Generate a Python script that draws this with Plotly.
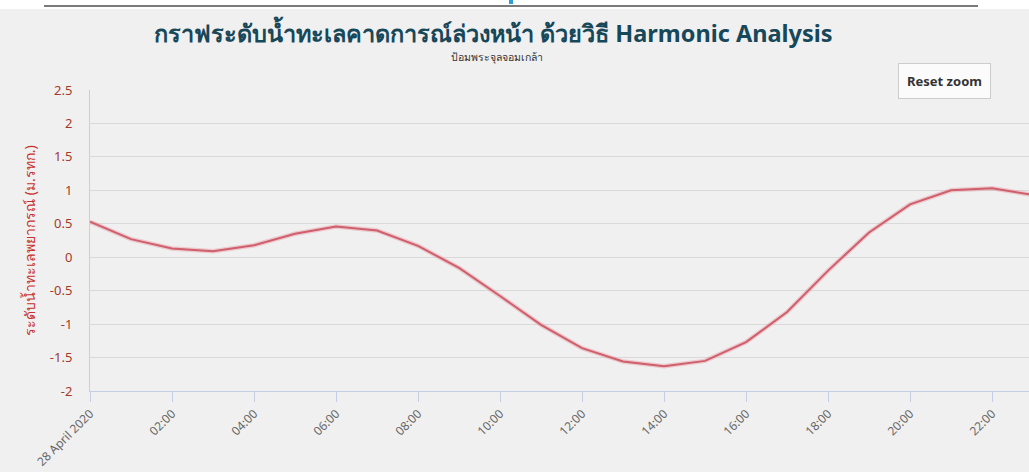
import plotly.graph_objects as go

# Hourly predicted sea level, 28 April 2020
times = [f"2020-04-28 {h:02d}:00" for h in range(24)]
levels = [0.53, 0.27, 0.13, 0.09, 0.18, 0.35, 0.46, 0.40, 0.17, -0.16,
          -0.58, -1.01, -1.36, -1.56, -1.63, -1.55, -1.27, -0.82, -0.20, 0.37,
          0.79, 1.00, 1.03, 0.93]

x_tick_vals = [f"2020-04-28 {h:02d}:00" for h in range(0, 24, 2)]
x_tick_text = ["28 April 2020"] + [f"{h:02d}:00" for h in range(2, 24, 2)]
y_tick_vals = [2.5, 2, 1.5, 1, 0.5, 0, -0.5, -1, -1.5, -2]
y_tick_text = ["2.5", "2", "1.5", "1", "0.5", "0", "-0.5", "-1", "-1.5", "-2"]

title_text = "กราฟระดับน้ำทะเลคาดการณ์ล่วงหน้า ด้วยวิธี Harmonic Analysis"
subtitle_text = "ป้อมพระจุลจอมเกล้า"
y_title = "ระดับน้ำทะเลพยากรณ์ (ม.รทก.)"

W, H = 1029, 472
L, R, T, B = 90, 0, 90, 81
plot_h = H - T - B
plot_w = W - L - R


def py(pix):
    """Convert a pixel row to paper y."""
    return (H - B - pix) / plot_h


def px(pix):
    """Convert a pixel column to paper x."""
    return (pix - L) / plot_w


fig = go.Figure()
# soft halo under the line
fig.add_trace(go.Scatter(x=times, y=levels, mode="lines",
                         line=dict(color="rgba(230,150,160,0.45)", width=4.5),
                         hoverinfo="skip", showlegend=False))
fig.add_trace(go.Scatter(x=times, y=levels, mode="lines",
                         line=dict(color="#cf5f6c", width=2),
                         showlegend=False))

fig.update_layout(
    width=W, height=H,
    margin=dict(l=L, r=R, t=T, b=B),
    paper_bgcolor="#f0f0f0",
    plot_bgcolor="rgba(0,0,0,0)",
    font=dict(family="Noto Sans, DejaVu Sans, sans-serif"),
    xaxis=dict(
        range=["2020-04-28 00:00", "2020-04-28 22:54"],
        tickvals=x_tick_vals, ticktext=x_tick_text,
        tickangle=-45, ticks="outside", ticklen=10, tickcolor="#c4cfe3",
        tickfont=dict(color="#666666", size=12),
        showgrid=False, showline=True, linecolor="#c4cfe3", linewidth=1,
        zeroline=False,
    ),
    yaxis=dict(
        range=[-2, 2.5],
        tickvals=y_tick_vals, ticktext=y_tick_text,
        tickfont=dict(color="#a33a2a", size=13),
        showgrid=True, gridcolor="#d9d9d9", gridwidth=1,
        zeroline=False, showline=True, linecolor="#c4cfe3", linewidth=1,
        ticks="outside", ticklen=14, tickcolor="rgba(0,0,0,0)",
        title=dict(text=y_title, font=dict(color="#c8302a", size=14), standoff=10),
    ),
    shapes=[
        # white strip along the top edge of the page
        dict(type="rect", xref="paper", yref="paper", x0=px(0), x1=1.0,
             y0=py(9), y1=py(0), fillcolor="white", line=dict(width=0), layer="below"),
        dict(type="line", xref="paper", yref="paper", x0=px(44), x1=px(978),
             y0=py(6), y1=py(6), line=dict(color="#7a7a7a", width=2)),
        dict(type="rect", xref="paper", yref="paper", x0=px(509), x1=px(513),
             y0=py(4), y1=py(0), fillcolor="#2a9fd6", line=dict(width=0)),
    ],
    annotations=[
        dict(text=f"<b>{title_text}</b>", xref="paper", yref="paper",
             x=px(493), y=py(33), xanchor="center", yanchor="middle",
             showarrow=False, font=dict(size=23.5, color="#17485a")),
        dict(text=subtitle_text, xref="paper", yref="paper",
             x=px(497), y=py(57), xanchor="center", yanchor="middle",
             showarrow=False, font=dict(size=10.5, color="#333333")),
        dict(text="<b>Reset zoom</b>", xref="paper", yref="paper",
             x=px(944), y=py(81), xanchor="center", yanchor="middle",
             showarrow=False, font=dict(size=13, color="#333333"),
             bgcolor="#fbfbfb", bordercolor="#cccccc", borderwidth=1, borderpad=8),
    ],
)

fig.write_html("out.html")
